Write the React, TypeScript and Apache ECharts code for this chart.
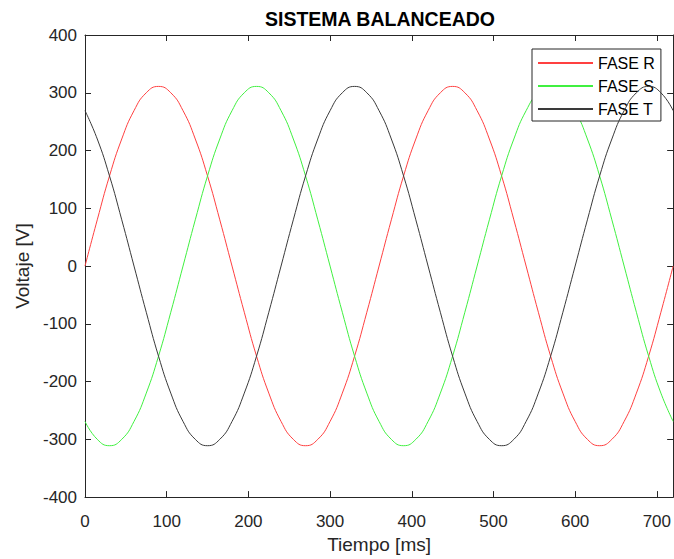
import React, { useEffect, useRef } from "react";
import * as echarts from "echarts";

const times = [
  0, 15, 30, 45, 60, 75, 90, 105, 120, 135, 150, 165, 180, 195, 210, 225, 240, 255, 270, 285, 300, 315, 330, 345,
  360, 375, 390, 405, 420, 435, 450, 465, 480, 495, 510, 525, 540, 555, 570, 585, 600, 615, 630, 645, 660, 675, 690, 705,
  720,
];

const faseR = [
  0, 80, 156, 220, 269, 300, 311, 300, 269, 220, 156, 80, 0, -80, -156, -220, -269, -300, -311, -300, -269, -220, -156, -80,
  0, 80, 156, 220, 269, 300, 311, 300, 269, 220, 156, 80, 0, -80, -156, -220, -269, -300, -311, -300, -269, -220, -156, -80,
  0,
];

const faseS = [
  -269, -300, -311, -300, -269, -220, -156, -80, 0, 80, 156, 220, 269, 300, 311, 300, 269, 220, 156, 80, 0, -80, -156, -220,
  -269, -300, -311, -300, -269, -220, -156, -80, 0, 80, 156, 220, 269, 300, 311, 300, 269, 220, 156, 80, 0, -80, -156, -220,
  -269,
];

const faseT = [
  269, 220, 156, 80, 0, -80, -156, -220, -269, -300, -311, -300, -269, -220, -156, -80, 0, 80, 156, 220, 269, 300, 311, 300,
  269, 220, 156, 80, 0, -80, -156, -220, -269, -300, -311, -300, -269, -220, -156, -80, 0, 80, 156, 220, 269, 300, 311, 300,
  269,
];

const seriesNames = ["FASE R", "FASE S", "FASE T"];
const seriesColors = ["#ff4040", "#40f040", "#3a3a3a"];

const FONT = "'Liberation Sans', Arial, Helvetica, sans-serif";
const AXIS = "#262626";

export default function App() {
  const ref = useRef<HTMLDivElement>(null);

  useEffect(() => {
    if (!ref.current) return;
    const chart = echarts.init(ref.current, undefined, { renderer: "svg" });
    const mk = (vals: number[]) => times.map((t, i) => [t, vals[i]]);
    const allData = [faseR, faseS, faseT];

    const axisCommon = {
      axisLine: { show: true, onZero: false, lineStyle: { color: AXIS, width: 1 } },
      axisTick: { show: true, inside: true, length: 6, lineStyle: { color: AXIS, width: 1 } },
      splitLine: { show: false },
    };

    chart.setOption({
      animation: false,
      backgroundColor: "#ffffff",
      textStyle: { fontFamily: FONT },
      grid: { left: 85, top: 35, width: 590, height: 464, containLabel: false },
      graphic: [
        {
          type: "text",
          x: 380,
          y: 18.5,
          style: {
            text: "SISTEMA BALANCEADO",
            align: "center",
            verticalAlign: "middle",
            fontFamily: FONT,
            fontSize: 19.5,
            fontWeight: "bold",
            fill: "#000000",
          },
        },
      ],
      legend: {
        orient: "vertical",
        left: 532,
        top: 49,
        itemWidth: 55,
        itemHeight: 14,
        itemGap: 7,
        padding: [6, 6, 4, 5],
        backgroundColor: "#ffffff",
        borderColor: AXIS,
        borderWidth: 1,
        borderRadius: 0,
        itemStyle: { opacity: 0, borderWidth: 0 },
        textStyle: { fontFamily: FONT, fontSize: 16, color: "#000000" },
        data: seriesNames,
      },
      xAxis: [
        {
          type: "value",
          position: "bottom",
          min: 0,
          max: 720,
          interval: 100,
          name: "Tiempo [ms]",
          nameLocation: "middle",
          nameGap: 36,
          nameTextStyle: { fontFamily: FONT, fontSize: 19, color: AXIS },
          axisLabel: { fontFamily: FONT, fontSize: 17, color: AXIS, margin: 16, showMaxLabel: false },
          ...axisCommon,
        },
        {
          type: "value",
          position: "top",
          min: 0,
          max: 720,
          interval: 100,
          axisLabel: { show: false },
          ...axisCommon,
        },
      ],
      yAxis: [
        {
          type: "value",
          position: "left",
          min: -400,
          max: 400,
          interval: 100,
          name: "Voltaje [V]",
          nameLocation: "middle",
          nameGap: 50,
          nameTextStyle: { fontFamily: FONT, fontSize: 19, color: AXIS },
          axisLabel: { fontFamily: FONT, fontSize: 17, color: AXIS, margin: 8 },
          ...axisCommon,
        },
        {
          type: "value",
          position: "right",
          min: -400,
          max: 400,
          interval: 100,
          axisLabel: { show: false },
          ...axisCommon,
        },
      ],
      series: seriesNames.map((name, i) => ({
        name,
        type: "line",
        xAxisIndex: 0,
        yAxisIndex: 0,
        data: mk(allData[i]),
        smooth: 0.5,
        symbol: "none",
        showSymbol: false,
        color: seriesColors[i],
        lineStyle: { color: seriesColors[i], width: 1 },
        emphasis: { disabled: true },
        z: 2 + i,
      })),
    });

    return () => chart.dispose();
  }, []);

  return (
    <div
      ref={ref}
      style={{ position: "fixed", left: 0, top: 0, width: 674, height: 559, background: "#fff" }}
    />
  );
}
